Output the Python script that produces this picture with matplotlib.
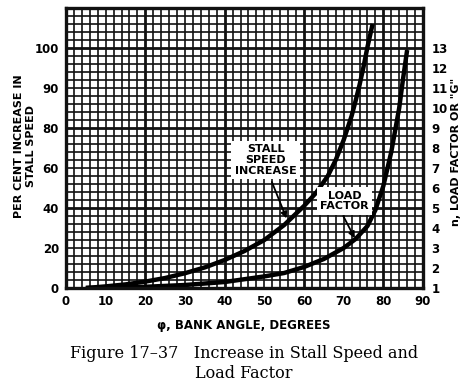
import matplotlib
matplotlib.use("Agg")
import matplotlib.pyplot as plt
import numpy as np

# ---- data (y in the chart's vertical position units) ----
stall_angle = [5, 10, 15, 20, 25, 30, 35, 40, 45, 50, 55, 60, 63, 66, 68, 70, 72, 73, 74, 75, 76, 77.3]
stall_incr  = [0, 0.8, 1.8, 3.2, 5.0, 7.4, 10.3, 14.0, 18.5, 24.0, 31.5, 41.0, 47.5, 56, 64, 74, 86, 93.5, 101.5, 110.5, 120.5, 132]

load_angle  = [5, 10, 20, 30, 40, 50, 55, 60, 65, 70, 73, 76, 78, 80, 82, 84, 85, 86]
load_factor = [0, 0.2, 0.6, 1.5, 3.0, 5.8, 7.5, 10.5, 14.5, 20, 24.5, 31, 39, 51, 68, 90, 105, 119]

x_ticks = list(range(0, 91, 10))
left_tick_pos = [0, 20, 40, 60, 80, 100, 120]
left_tick_labels = ['0', '20', '40', '60', '80', '90', '100']
right_tick_pos = list(range(0, 121, 10))
right_tick_labels = [str(n) for n in range(1, 14)]

W, H = 472, 381
fig = plt.figure(figsize=(W / 100, H / 100), dpi=100)
fig.patch.set_facecolor('white')

L, R, T, B = 66, 423, 8, 288
ax = fig.add_axes([L / W, 1 - B / H, (R - L) / W, (B - T) / H])
ax.set_xlim(0, 90)
ax.set_ylim(0, 140)

gc = '#111111'
# grid
for xv in np.arange(2, 90, 2):
    lw = 2.0 if xv % 20 == 0 else 1.2
    ax.axvline(xv, color=gc, lw=lw, zorder=1)
for yv in np.arange(4, 140, 4):
    lw = 2.0 if yv % 40 == 0 else 1.2
    ax.axhline(yv, color=gc, lw=lw, zorder=1)

for s in ax.spines.values():
    s.set_linewidth(2.4)
    s.set_color(gc)
    s.set_zorder(5)

ax.plot(stall_angle, stall_incr, color='black', lw=3.2, solid_capstyle='butt',
        solid_joinstyle='round', zorder=4)
ax.plot(load_angle, load_factor, color='black', lw=3.2, solid_capstyle='butt',
        solid_joinstyle='round', zorder=4)

font = 'DejaVu Sans'
ax.set_xticks(x_ticks)
ax.set_xticklabels([str(v) for v in x_ticks], fontsize=8.5, family=font, fontweight='bold')
ax.set_yticks(left_tick_pos)
ax.set_yticklabels(left_tick_labels, fontsize=8.5, family=font, fontweight='bold')
ax.tick_params(length=0, pad=5)

ax2 = ax.twinx()
ax2.set_ylim(0, 140)
ax2.set_yticks(right_tick_pos)
ax2.set_yticklabels(right_tick_labels, fontsize=8.5, family=font, fontweight='bold')
ax2.tick_params(length=0, pad=6)
for s in ax2.spines.values():
    s.set_visible(False)

# annotation labels (white boxes over the grid)
ax.text(50.3, 64, 'STALL\nSPEED\nINCREASE', ha='center', va='center',
        fontsize=8, family=font, fontweight='bold', linespacing=1.1, zorder=6,
        bbox=dict(boxstyle='square,pad=0.3', fc='white', ec='none'))
ax.text(70.2, 43.5, 'LOAD\nFACTOR', ha='center', va='center',
        fontsize=8, family=font, fontweight='bold', linespacing=1.1, zorder=6,
        bbox=dict(boxstyle='square,pad=0.3', fc='white', ec='none'))
arrow = dict(arrowstyle='-|>', color='black', lw=1.3, mutation_scale=9,
             shrinkA=0, shrinkB=0)
ax.annotate('', xy=(55.6, 34.8), xytext=(51.9, 53), arrowprops=arrow, zorder=7)
ax.annotate('', xy=(72.8, 24.9), xytext=(69.9, 36), arrowprops=arrow, zorder=7)

# axis labels
fig.text(25 / W, 1 - 146 / H, 'PER CENT INCREASE IN\nSTALL SPEED', rotation=90,
         ha='center', va='center', fontsize=8, family=font, fontweight='bold',
         linespacing=1.15)
fig.text(456 / W, 1 - 152 / H, 'n, LOAD FACTOR OR "G"', rotation=90,
         ha='center', va='center', fontsize=8, family=font, fontweight='bold')
fig.text(244 / W, 1 - 326 / H, '\u03c6, BANK ANGLE, DEGREES',
         ha='center', va='center', fontsize=8.5, family=font, fontweight='bold')

# caption
serif = 'DejaVu Serif'
fig.text(244 / W, 1 - 353 / H, 'Figure 17\u201337   Increase in Stall Speed and',
         ha='center', va='center', fontsize=11.5, family=serif)
fig.text(244 / W, 1 - 374 / H, 'Load Factor', ha='center', va='center',
         fontsize=11.5, family=serif)

fig.savefig('out.png', dpi=100, facecolor='white')
